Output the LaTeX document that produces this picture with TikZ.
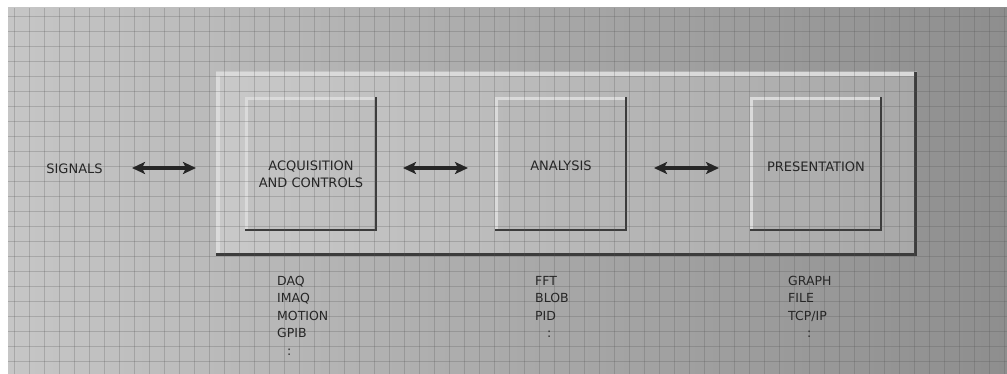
\documentclass[tikz,border=0pt]{standalone}
\usepackage{fontspec}
\setmainfont{DejaVu Sans}
\usetikzlibrary{arrows.meta}
\definecolor{txt}{HTML}{262626}
\definecolor{bgL}{HTML}{C6C6C6}
\definecolor{bgR}{HTML}{8E8E8E}
\definecolor{pnL}{HTML}{C9C9C9}
\definecolor{pnR}{HTML}{A8A8A8}
\definecolor{hi}{HTML}{DADADA}
\definecolor{sh}{HTML}{3C3C3C}
\definecolor{gridc}{HTML}{555555}
\tikzset{
  lbl/.style={font=\fontsize{13}{17}\selectfont, text=txt, inner sep=0pt, align=center},
  lst/.style={font=\fontsize{12.5}{17.4}\selectfont, text=txt, inner sep=0pt, align=left, anchor=north west},
  blk/.style={minimum width=132pt, minimum height=134pt, inner sep=0pt},
  gridline/.style={gridc, line width=0.8pt, opacity=0.26},
  dbl/.style={{Stealth[length=13pt,width=12pt,inset=3pt]}-{Stealth[length=13pt,width=12pt,inset=3pt]}, line width=3.6pt, draw=black!85},
}
\begin{document}
\begin{tikzpicture}[x=1pt,y=-1pt]
\useasboundingbox (0,0) rectangle (1007,374);
% background
\fill[white] (0,0) rectangle (1007,374);
\shade[left color=bgL, right color=bgR] (8,8) rectangle (1007,374);
% outer panel
\shade[left color=pnL, right color=pnR] (216,72) rectangle (917,256);
\fill[hi] (216,72) rectangle (917,76);
\fill[hi] (216,72) rectangle (220,256);
\fill[sh] (216,253) rectangle (917,256);
\fill[sh] (914,72) rectangle (917,256);
% inner boxes
\foreach \x in {245,495,750}{
  \fill[black!30,opacity=0.2] (\x,97) rectangle ++(132,134);
  \fill[hi] (\x,97) rectangle ++(132,3);
  \fill[hi] (\x,97) rectangle ++(3,134);
  \fill[sh] (\x,229) rectangle ++(132,2.5);
  \fill[sh] (\x+129.5,97) rectangle ++(2.5,134);
}
% grid
\foreach \gx in {14,29,...,1004}{ \draw[gridline] (\gx,8) -- (\gx,374); }
\foreach \gy in {16,31,...,371}{ \draw[gridline] (8,\gy) -- (1007,\gy); }
% nodes
\node[blk] (acq) at (311,164) {};
\node[blk] (ana) at (561,164) {};
\node[blk] (pre) at (816,164) {};
\node[lbl] (acqt) at ([yshift=-10.5pt]acq.center) {ACQUISITION\\AND CONTROLS};
\node[lbl] (anat) at ([yshift=-2pt]ana.center) {ANALYSIS};
\node[lbl] (pret) at ([yshift=-3pt]pre.center) {PRESENTATION};
\node[lbl] (sig) at (74.5,169) {SIGNALS};
% arrows
\coordinate (a1s) at (132,168); \coordinate (a1e) at (196,168);
\coordinate (a2s) at (403,168); \coordinate (a2e) at (468,168);
\coordinate (a3s) at (654,168); \coordinate (a3e) at (719,168);
\draw[dbl] (a1s) -- (a1e);
\draw[dbl] (a2s) -- (a2e);
\draw[dbl] (a3s) -- (a3e);
% lists
\node[lst] (l1) at (277,276) {DAQ\\IMAQ\\MOTION\\GPIB\\\hspace*{10pt}:};
\node[lst] (l2) at (535,276) {FFT\\BLOB\\PID\\\hspace*{12pt}:};
\node[lst] (l3) at (788,276) {GRAPH\\FILE\\TCP/IP\\\hspace*{19pt}:};
\end{tikzpicture}
\end{document}
